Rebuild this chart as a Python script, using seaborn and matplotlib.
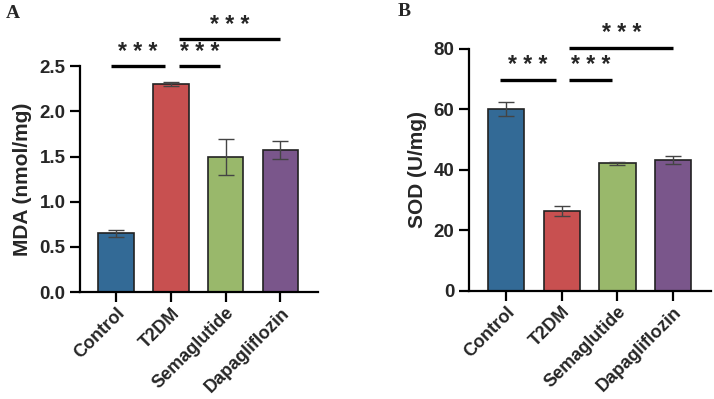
import matplotlib
matplotlib.use("Agg")
import matplotlib.pyplot as plt
import seaborn as sns
import pandas as pd

# data
groups = ["Control", "T2DM", "Semaglutide", "Dapagliflozin"]
colors = ["#336a96", "#c85050", "#99b86b", "#7a568b"]

mda_mean = [0.65, 2.30, 1.50, 1.57]
mda_err = [0.04, 0.02, 0.20, 0.10]

sod_mean = [60.0, 26.3, 42.2, 43.1]
sod_err = [2.3, 1.7, 0.5, 1.3]

# significance brackets: (x_start, x_end, y, label)
mda_sig = [(-0.09, 0.89, 2.50, "* * *"), (1.15, 1.89, 2.50, "* * *"), (1.15, 3.0, 2.80, "* * *")]
sod_sig = [(-0.11, 0.90, 69.5, "* * *"), (1.14, 1.91, 69.5, "* * *"), (1.14, 3.0, 80.2, "* * *")]

sns.set_theme(style="ticks")
plt.rcParams['font.family'] = ['Liberation Sans', 'DejaVu Sans']
plt.rcParams['font.weight'] = 'bold'
plt.rcParams['axes.labelweight'] = 'bold'

fig = plt.figure(figsize=(7.14, 3.99), dpi=100)
axA = fig.add_axes([0.112, 0.268, 0.333, 0.566])
axB = fig.add_axes([0.657, 0.271, 0.339, 0.607])


def draw_panel(ax, means, errs, sig, ylim, yticks, ylabel, ytxt_off):
    df = pd.DataFrame({"group": groups, "value": means})
    sns.barplot(data=df, x="group", y="value", hue="group", palette=colors,
                order=groups, hue_order=groups, width=0.65, errorbar=None,
                saturation=1, edgecolor="#222222", linewidth=1.2,
                legend=False, ax=ax)
    ax.errorbar(range(len(groups)), means, yerr=errs, fmt="none",
                ecolor="#444444", elinewidth=1.0, capsize=6, capthick=1.0)
    ax.set_ylim(*ylim)
    ax.set_yticks(yticks)
    ax.set_xlim(-0.66, 3.68)
    ax.set_xlabel("")
    ax.set_ylabel(ylabel, fontsize=15, fontweight="bold", labelpad=5)
    for s in ["top", "right"]:
        ax.spines[s].set_visible(False)
    for s in ["left", "bottom"]:
        ax.spines[s].set_linewidth(1.6)
        ax.spines[s].set_color("black")
    ax.tick_params(axis="both", width=1.6, length=7, color="black")
    ax.tick_params(axis="y", labelsize=13.5)
    ax.tick_params(axis="x", labelsize=13, pad=2)
    ax.set_xticks(range(len(groups)))
    ax.set_xticklabels(groups, rotation=45, ha="right", rotation_mode="anchor",
                       fontweight="bold")
    for lab in ax.get_yticklabels():
        lab.set_fontweight("bold")
    for x0, x1, y, txt in sig:
        ax.plot([x0, x1], [y, y], color="black", lw=2.4, clip_on=False,
                solid_capstyle="butt")
        ax.text((x0 + x1) / 2, y + ytxt_off, txt, ha="center", va="center",
                fontsize=16.5, fontweight="bold", clip_on=False)


draw_panel(axA, mda_mean, mda_err, mda_sig, (0, 2.5),
           [0.0, 0.5, 1.0, 1.5, 2.0, 2.5], "MDA (nmol/mg)", 0.15)
axA.yaxis.set_major_formatter(matplotlib.ticker.FormatStrFormatter("%.1f"))
draw_panel(axB, sod_mean, sod_err, sod_sig, (0, 80),
           [0, 20, 40, 60, 80], "SOD (U/mg)", 4.8)

fig.text(0.008, 0.965, "A", fontsize=14, fontweight="bold",
         family=["Liberation Serif", "DejaVu Serif"], va="center")
fig.text(0.557, 0.97, "B", fontsize=14, fontweight="bold",
         family=["Liberation Serif", "DejaVu Serif"], va="center")

fig.savefig("out.png", dpi=100)
